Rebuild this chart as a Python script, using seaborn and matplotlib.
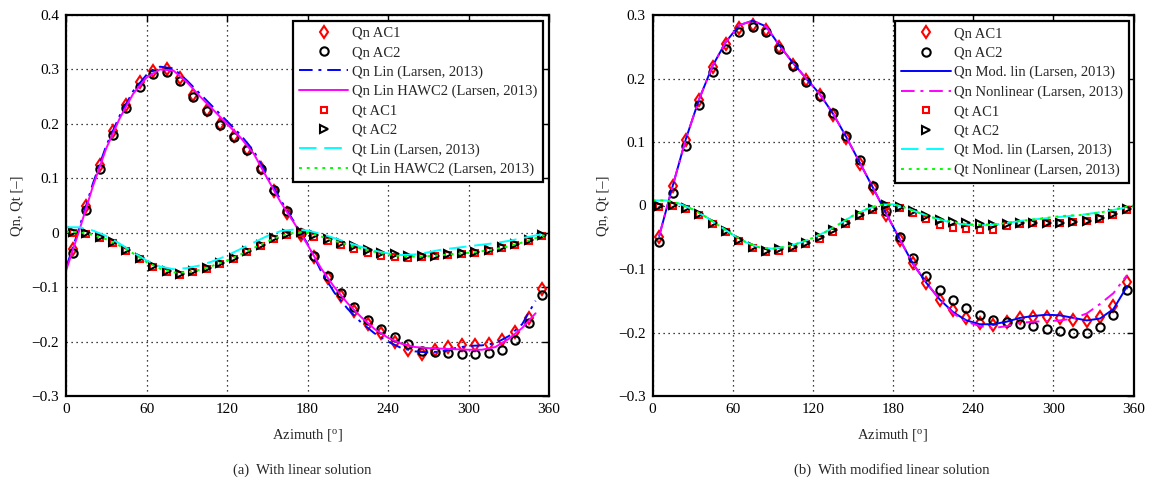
import matplotlib
matplotlib.use("Agg")
import matplotlib.pyplot as plt
import seaborn as sns
import pandas as pd

# ---------------- data ----------------
az_marks = [5, 15, 25, 35, 45, 55, 65, 75, 85, 95, 105, 115, 125, 135, 145, 155, 165, 175,
            185, 195, 205, 215, 225, 235, 245, 255, 265, 275, 285, 295, 305, 315, 325, 335, 345, 355]
az_lines = [0, 10, 20, 30, 40, 50, 60, 70, 80, 90, 100, 110, 120, 130, 140, 150, 160, 170, 180,
            190, 200, 210, 220, 230, 240, 250, 260, 270, 280, 290, 300, 310, 320, 330, 340, 350, 360]
az_qn_left = [0, 10, 20, 30, 40, 50, 60, 70, 80, 90, 100, 110, 120, 130, 140, 150, 160, 170,
              180, 190, 200, 210, 220, 230, 240, 250, 260, 270, 280, 290, 300, 310, 320, 330, 340, 350]

# (a) linear solution
a_qn_ac1 = [-0.030, 0.050, 0.125, 0.186, 0.235, 0.276, 0.298, 0.300, 0.284, 0.253, 0.226, 0.200,
            0.177, 0.154, 0.119, 0.076, 0.036, -0.005, -0.045, -0.083, -0.117, -0.144, -0.167, -0.184,
            -0.201, -0.215, -0.222, -0.216, -0.210, -0.206, -0.206, -0.204, -0.198, -0.182, -0.156, -0.104]
a_qn_ac2 = [-0.037, 0.042, 0.117, 0.180, 0.230, 0.268, 0.291, 0.296, 0.278, 0.250, 0.223, 0.198,
            0.175, 0.152, 0.117, 0.078, 0.039, 0.000, -0.042, -0.079, -0.111, -0.137, -0.160, -0.176,
            -0.192, -0.205, -0.217, -0.219, -0.221, -0.222, -0.223, -0.221, -0.215, -0.198, -0.166, -0.115]
a_qn_lin = [-0.065, 0.010, 0.090, 0.160, 0.215, 0.260, 0.290, 0.305, 0.302, 0.280, 0.255, 0.230,
            0.205, 0.180, 0.150, 0.105, 0.060, 0.020, -0.020, -0.070, -0.110, -0.140, -0.165, -0.185,
            -0.200, -0.212, -0.218, -0.220, -0.218, -0.212, -0.208, -0.207, -0.203, -0.190, -0.168, -0.125]
a_qn_hawc2 = [-0.070, 0.005, 0.085, 0.155, 0.210, 0.255, 0.285, 0.300, 0.298, 0.277, 0.250, 0.225,
              0.200, 0.175, 0.145, 0.100, 0.056, 0.018, -0.022, -0.065, -0.100, -0.130, -0.155, -0.177,
              -0.193, -0.204, -0.210, -0.212, -0.213, -0.214, -0.215, -0.215, -0.210, -0.195, -0.175, -0.148]
a_qt_ac1 = [0.000, -0.002, -0.009, -0.019, -0.034, -0.049, -0.063, -0.073, -0.077, -0.073, -0.066, -0.058,
            -0.048, -0.036, -0.024, -0.012, -0.004, -0.001, -0.007, -0.016, -0.022, -0.030, -0.037, -0.042,
            -0.045, -0.046, -0.045, -0.043, -0.041, -0.039, -0.037, -0.034, -0.029, -0.023, -0.015, -0.006]
a_qt_ac2 = [0.002, 0.000, -0.007, -0.017, -0.031, -0.046, -0.061, -0.071, -0.075, -0.071, -0.064, -0.056,
            -0.046, -0.034, -0.022, -0.010, -0.002, 0.001, -0.004, -0.012, -0.018, -0.025, -0.032, -0.037,
            -0.040, -0.043, -0.043, -0.042, -0.040, -0.038, -0.036, -0.032, -0.027, -0.021, -0.013, -0.004]
a_qt_lin = [0.010, 0.010, 0.004, -0.006, -0.020, -0.036, -0.051, -0.062, -0.067, -0.065, -0.060, -0.052,
            -0.042, -0.030, -0.018, -0.006, 0.003, 0.006, 0.004, -0.002, -0.010, -0.018, -0.026, -0.033,
            -0.038, -0.041, -0.040, -0.036, -0.031, -0.028, -0.025, -0.022, -0.019, -0.015, -0.010, -0.005, 0.000]
a_qt_hawc2 = [0.002, 0.001, -0.004, -0.012, -0.024, -0.038, -0.054, -0.066, -0.073, -0.073, -0.068, -0.060,
              -0.051, -0.040, -0.028, -0.016, -0.006, 0.000, 0.000, -0.007, -0.015, -0.022, -0.029, -0.035,
              -0.040, -0.043, -0.044, -0.043, -0.041, -0.039, -0.037, -0.034, -0.030, -0.025, -0.018, -0.010, -0.002]

# (b) modified linear solution
b_qn_ac1 = [-0.050, 0.030, 0.103, 0.166, 0.218, 0.254, 0.279, 0.285, 0.276, 0.250, 0.222, 0.198,
            0.174, 0.143, 0.107, 0.066, 0.027, -0.015, -0.054, -0.091, -0.122, -0.149, -0.165, -0.177,
            -0.185, -0.188, -0.184, -0.177, -0.176, -0.175, -0.177, -0.180, -0.182, -0.175, -0.159, -0.120]
b_qn_ac2 = [-0.058, 0.020, 0.094, 0.159, 0.210, 0.247, 0.273, 0.281, 0.273, 0.246, 0.219, 0.195,
            0.173, 0.145, 0.110, 0.071, 0.031, -0.009, -0.049, -0.083, -0.111, -0.133, -0.149, -0.162,
            -0.173, -0.180, -0.183, -0.186, -0.189, -0.195, -0.198, -0.200, -0.200, -0.192, -0.172, -0.133]
b_qn_modlin = [-0.048, 0.030, 0.105, 0.168, 0.220, 0.258, 0.284, 0.291, 0.282, 0.252, 0.225, 0.200,
               0.176, 0.145, 0.108, 0.068, 0.028, -0.013, -0.053, -0.092, -0.122, -0.148, -0.168, -0.181,
               -0.187, -0.187, -0.183, -0.177, -0.174, -0.172, -0.173, -0.177, -0.181, -0.178, -0.163, -0.128]
b_qn_nonlin = [-0.048, 0.030, 0.105, 0.168, 0.220, 0.258, 0.284, 0.291, 0.282, 0.252, 0.225, 0.200,
               0.176, 0.145, 0.108, 0.068, 0.028, -0.013, -0.053, -0.092, -0.122, -0.148, -0.170, -0.183,
               -0.190, -0.193, -0.190, -0.185, -0.183, -0.182, -0.181, -0.178, -0.170, -0.155, -0.138, -0.110]
b_qt_ac1 = [-0.002, -0.001, -0.006, -0.015, -0.029, -0.042, -0.056, -0.067, -0.073, -0.071, -0.067, -0.061,
            -0.052, -0.041, -0.029, -0.017, -0.007, -0.001, -0.004, -0.012, -0.022, -0.030, -0.035, -0.037,
            -0.038, -0.038, -0.033, -0.029, -0.028, -0.028, -0.027, -0.026, -0.025, -0.021, -0.015, -0.007]
b_qt_ac2 = [-0.001, 0.001, -0.004, -0.013, -0.027, -0.040, -0.054, -0.065, -0.071, -0.069, -0.065, -0.059,
            -0.050, -0.039, -0.027, -0.015, -0.005, 0.001, -0.002, -0.009, -0.017, -0.023, -0.026, -0.028,
            -0.029, -0.030, -0.029, -0.028, -0.028, -0.028, -0.027, -0.026, -0.025, -0.020, -0.014, -0.006]
b_qt_modlin = [0.008, 0.008, 0.003, -0.006, -0.018, -0.032, -0.046, -0.058, -0.066, -0.068, -0.065, -0.059,
               -0.051, -0.041, -0.029, -0.016, -0.006, 0.001, 0.002, -0.004, -0.012, -0.019, -0.025, -0.029,
               -0.031, -0.031, -0.029, -0.026, -0.023, -0.021, -0.019, -0.017, -0.015, -0.012, -0.009, -0.005, -0.001]
b_qt_nonlin = [0.008, 0.008, 0.003, -0.006, -0.018, -0.032, -0.046, -0.058, -0.066, -0.068, -0.065, -0.059,
               -0.051, -0.041, -0.029, -0.016, -0.006, 0.001, 0.002, -0.004, -0.012, -0.019, -0.024, -0.028,
               -0.030, -0.030, -0.029, -0.026, -0.023, -0.021, -0.018, -0.016, -0.015, -0.013, -0.009, -0.004, 0.000]

x_ticks = [0, 60, 120, 180, 240, 300, 360]
x_ticklabels = ["0", "60", "120", "180", "240", "300", "360"]
a_yticks = [-0.3, -0.2, -0.1, 0, 0.1, 0.2, 0.3, 0.4]
a_yticklabels = ["\u22120.3", "\u22120.2", "\u22120.1", "0", "0.1", "0.2", "0.3", "0.4"]
b_yticks = [-0.3, -0.2, -0.1, 0, 0.1, 0.2, 0.3]
b_yticklabels = ["\u22120.3", "\u22120.2", "\u22120.1", "0", "0.1", "0.2", "0.3"]

ylabel = "Qn, Qt [\u2013]"
xlabel = r"Azimuth [$^{\mathrm{o}}$]"
cap_a = "(a)  With linear solution"
cap_b = "(b)  With modified linear solution"

# ---------------- style ----------------
sns.set_theme(style="white")
plt.rcParams["font.family"] = ["Liberation Serif", "DejaVu Serif"]
plt.rcParams["mathtext.fontset"] = "custom"
plt.rcParams["mathtext.rm"] = "Liberation Serif"
plt.rcParams["mathtext.it"] = "Liberation Serif:italic"
plt.rcParams["font.size"] = 10.5

fig = plt.figure(figsize=(11.54, 4.82), dpi=100)
W, H = 1154, 482
axA = fig.add_axes([66 / W, 1 - 396 / H, (549 - 66) / W, (396 - 15) / H])
axB = fig.add_axes([652.5 / W, 1 - 396 / H, (1133.5 - 652.5) / W, (396 - 15) / H])

LW = 1.4
MEW = 1.5


def marks(ax, x, y, marker, color, label, ms):
    sns.lineplot(x=x, y=y, ax=ax, sort=False, estimator=None, linestyle="", marker=marker,
                 markersize=ms, markerfacecolor="none", markeredgecolor=color,
                 markeredgewidth=MEW, color=color, label=label)


def line(ax, x, y, color, label, ls, dashes=None):
    kw = dict(x=x, y=y, ax=ax, sort=False, estimator=None, color=color, linewidth=LW, label=label)
    l = sns.lineplot(**kw)
    ln = l.get_lines()[-1]
    if dashes is not None:
        ln.set_dashes(dashes)
    else:
        ln.set_linestyle(ls)


# panel (a)
marks(axA, az_marks, a_qn_ac1, "d", "red", "Qn AC1", 6.5)
marks(axA, az_marks, a_qn_ac2, "o", "black", "Qn AC2", 6)
line(axA, az_qn_left, a_qn_lin, "#0000ff", "Qn Lin (Larsen, 2013)", None, (7, 3, 1.5, 3))
line(axA, az_qn_left, a_qn_hawc2, "#ff00ff", "Qn Lin HAWC2 (Larsen, 2013)", "-")
marks(axA, az_marks, a_qt_ac1, "s", "red", "Qt AC1", 5)
marks(axA, az_marks, a_qt_ac2, ">", "black", "Qt AC2", 6)
line(axA, az_lines, a_qt_lin, "#00ffff", "Qt Lin (Larsen, 2013)", None, (9, 4))
line(axA, az_lines, a_qt_hawc2, "#00ff00", "Qt Lin HAWC2 (Larsen, 2013)", None, (1.5, 2.5))

# panel (b)
marks(axB, az_marks, b_qn_ac1, "d", "red", "Qn AC1", 6.5)
marks(axB, az_marks, b_qn_ac2, "o", "black", "Qn AC2", 6)
line(axB, az_marks, b_qn_modlin, "#0000ff", "Qn Mod. lin (Larsen, 2013)", "-")
line(axB, az_marks, b_qn_nonlin, "#ff00ff", "Qn Nonlinear (Larsen, 2013)", None, (7, 3, 1.5, 3))
marks(axB, az_marks, b_qt_ac1, "s", "red", "Qt AC1", 5)
marks(axB, az_marks, b_qt_ac2, ">", "black", "Qt AC2", 6)
line(axB, az_lines, b_qt_modlin, "#00ffff", "Qt Mod. lin (Larsen, 2013)", None, (9, 4))
line(axB, az_lines, b_qt_nonlin, "#00ff00", "Qt Nonlinear (Larsen, 2013)", None, (1.5, 2.5))

for ax, yt, ytl, ylim, anchor in [
    (axA, a_yticks, a_yticklabels, (-0.3, 0.4), (0.988, 0.985)),
    (axB, b_yticks, b_yticklabels, (-0.3, 0.3), (0.991, 0.983)),
]:
    ax.set_xlim(0, 360)
    ax.set_ylim(*ylim)
    ax.set_xticks(x_ticks)
    ax.set_xticklabels(x_ticklabels)
    ax.set_yticks(yt)
    ax.set_yticklabels(ytl)
    ax.grid(True, linestyle=(0, (1, 3)), color="black", linewidth=0.9)
    ax.tick_params(direction="in", length=5, width=1.0, top=True, right=True,
                   labelsize=11, colors="black", pad=5)
    for s in ax.spines.values():
        s.set_visible(True)
        s.set_color("black")
        s.set_linewidth(1.6)
    ax.set_xlabel(xlabel, fontsize=10.5, labelpad=8)
    ax.set_ylabel(ylabel, fontsize=10.5, labelpad=6)
    ax.set_facecolor("white")
    leg = ax.legend(loc="upper right", bbox_to_anchor=anchor, fontsize=10.5, frameon=True,
                    fancybox=False, framealpha=1, edgecolor="black", handlelength=3.4,
                    handletextpad=0.25, borderpad=0.4, labelspacing=0.42, borderaxespad=0)
    leg.get_frame().set_linewidth(1.6)

fig.text(302 / W, 1 - 470 / H, cap_a, ha="center", va="center", fontsize=10.5)
fig.text(892 / W, 1 - 470 / H, cap_b, ha="center", va="center", fontsize=10.5)

fig.savefig("out.png", dpi=100, facecolor="white")
